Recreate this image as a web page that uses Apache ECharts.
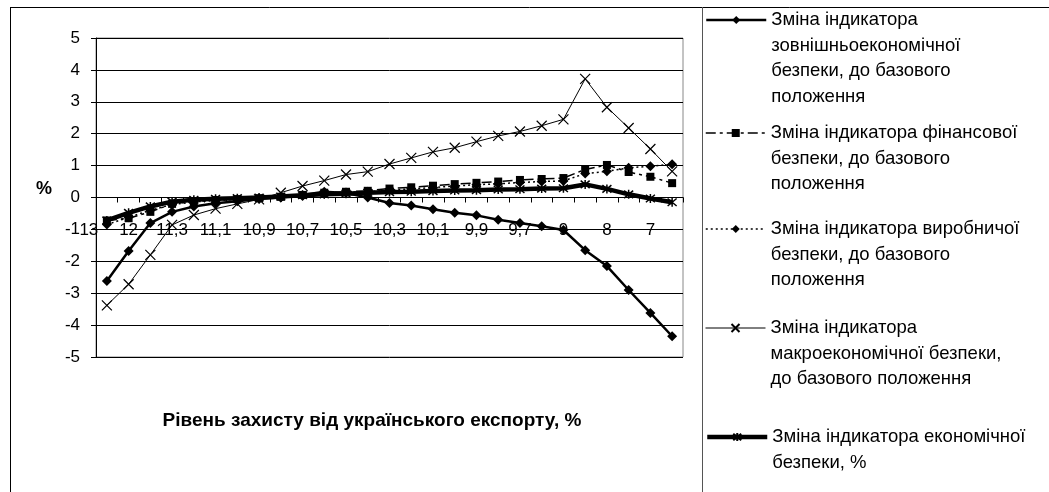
<!DOCTYPE html>
<html><head><meta charset="utf-8">
<script src="https://cdn.jsdelivr.net/npm/echarts@6/dist/echarts.min.js"></script>
<style>html,body{margin:0;padding:0;background:#fff}#c{width:1049px;height:492px}</style>
</head><body><div id="c"></div>
<script>
// Category (x) values: level of protection, %
const categories = ["13","12","11,5","11,3","11,2","11,1","11","10,9","10,8","10,7","10,6","10,5","10,4","10,3","10,2","10,1","10","9,9","9,8","9,7","9,5","9","8,5","8","7,5","7","6,5"];

const seriesNames = [
  "Зміна індикатора зовнішньоекономічної безпеки, до базового положення",
  "Зміна індикатора фінансової безпеки, до базового положення",
  "Зміна індикатора виробничої безпеки, до базового положення",
  "Зміна індикатора макроекономічної безпеки, до базового положення",
  "Зміна індикатора економічної безпеки, %"
];
const legendLabels = [
  "Зміна індикатора\nзовнішньоекономічної\nбезпеки, до базового\nположення",
  "Зміна індикатора фінансової\nбезпеки, до базового\nположення",
  "Зміна індикатора виробничої\nбезпеки, до базового\nположення",
  "Зміна індикатора\nмакроекономічної безпеки,\nдо базового положення",
  "Зміна індикатора економічної\nбезпеки, %"
];

const externalEcon = [-2.62,-1.68,-0.8,-0.45,-0.28,-0.18,-0.12,-0.05,0.0,0.08,0.18,0.14,0.0,-0.17,-0.25,-0.37,-0.48,-0.56,-0.7,-0.8,-0.9,-1.02,-1.65,-2.15,-2.9,-3.62,-4.35];
const financial    = [-0.72,-0.65,-0.45,-0.2,-0.13,-0.08,-0.05,-0.02,0.02,0.08,0.15,0.18,0.21,0.28,0.32,0.37,0.42,0.46,0.5,0.55,0.58,0.61,0.88,1.02,0.8,0.65,0.45];
const production   = [-0.85,-0.62,-0.4,-0.22,-0.14,-0.09,-0.06,-0.03,0.0,0.05,0.12,0.16,0.18,0.23,0.27,0.31,0.36,0.4,0.43,0.47,0.5,0.52,0.75,0.82,0.93,0.98,1.04];
const macroEcon    = [-3.38,-2.72,-1.8,-0.86,-0.55,-0.35,-0.2,-0.06,0.15,0.36,0.53,0.72,0.81,1.05,1.24,1.43,1.56,1.75,1.93,2.07,2.25,2.45,3.72,2.83,2.18,1.52,0.82];
const economic     = [-0.72,-0.48,-0.28,-0.13,-0.07,-0.04,-0.02,0.0,0.03,0.07,0.1,0.12,0.15,0.17,0.18,0.2,0.22,0.23,0.25,0.26,0.28,0.29,0.41,0.27,0.1,-0.03,-0.15];

const FONT = "'Liberation Sans', Arial, sans-serif";
const LH = 25.7;
const crossPath = 'path://M0,0L10,10M10,0L0,10';
const starPath = 'path://M0,0L10,10M10,0L0,10M5,-1L5,11';

const chart = echarts.init(document.getElementById('c'), null, {renderer: 'canvas'});

const seriesDefs = [
  {data: externalEcon, symbol: 'diamond', symbolSize: 10, lineStyle: {width: 2.5, type: 'solid'}, itemStyle: {color: '#000'}},
  {data: financial, symbol: 'rect', symbolSize: 8, lineStyle: {width: 1.5, type: [10, 4, 3, 4]}, itemStyle: {color: '#000'}},
  {data: production, symbol: 'diamond', symbolSize: 10, lineStyle: {width: 1.5, type: [2, 3]}, itemStyle: {color: '#000'}},
  {data: macroEcon, symbol: crossPath, symbolSize: 10, lineStyle: {width: 1, type: 'solid'}, itemStyle: {color: 'none', borderColor: '#000', borderWidth: 1.2}},
  {data: economic, symbol: starPath, symbolSize: 9, lineStyle: {width: 4.5, type: 'solid'}, itemStyle: {color: 'none', borderColor: '#000', borderWidth: 1.5}}
];

const series = seriesDefs.map((d, i) => ({
  name: seriesNames[i],
  type: 'line',
  data: d.data,
  symbol: d.symbol,
  symbolSize: d.symbolSize,
  showAllSymbol: true,
  lineStyle: Object.assign({color: '#000'}, d.lineStyle),
  itemStyle: d.itemStyle,
  z: 2 + i
}));

// per-legend vertical centre of the icon (= first text line)
const legendCenters = [20, 133, 229, 328, 437];
const legends = seriesNames.map((n, i) => {
  const lines = legendLabels[i].split('\n').length;
  const blank = '\n'.repeat(lines - 1);
  return {
    data: [n],
    orient: 'vertical',
    left: 705,
    top: legendCenters[i] - (2 * lines - 1) * LH / 2,
    padding: 0,
    itemWidth: 60,
    itemHeight: 10,
    selectedMode: false,
    lineStyle: {width: seriesDefs[i].lineStyle.width},
    formatter: () => blank + legendLabels[i],
    textStyle: {fontFamily: FONT, fontSize: 18.5, color: '#000', lineHeight: LH}
  };
});

chart.setOption({
  animation: false,
  backgroundColor: '#fff',
  grid: {left: 96, right: 366, top: 38, bottom: 135, show: true, borderColor: '#888', borderWidth: 1, backgroundColor: 'transparent'},
  legend: legends,
  xAxis: {
    type: 'category',
    data: categories,
    boundaryGap: true,
    offset: -159.5,
    axisLine: {onZero: false, lineStyle: {color: '#000', width: 1}},
    axisTick: {show: true, interval: 0, length: 5, inside: false, lineStyle: {color: '#000'}},
    axisLabel: {
      interval: (i) => i === 0 || i % 2 === 1,
      margin: 24,
      fontFamily: FONT, fontSize: 17, color: '#000',
      formatter: (v, i) => i === 0 ? '{f|' + v + '}' : v,
      rich: {f: {fontFamily: FONT, fontSize: 17, color: '#000', padding: [0, 36, 0, 0]}}
    },
    splitLine: {show: false}
  },
  yAxis: {
    type: 'value',
    min: -5, max: 5, interval: 1,
    axisLine: {show: true, lineStyle: {color: '#000'}},
    axisTick: {show: true, length: 5, lineStyle: {color: '#000'}},
    axisLabel: {fontFamily: FONT, fontSize: 17, color: '#000', margin: 16},
    splitLine: {show: true, lineStyle: {color: '#000', width: 1}}
  },
  graphic: [
    {type: 'line', shape: {x1: 10, y1: 7.5, x2: 1049, y2: 7.5}, style: {stroke: '#000', lineWidth: 1}, z: 100, silent: true},
    {type: 'line', shape: {x1: 10.5, y1: 7, x2: 10.5, y2: 492}, style: {stroke: '#000', lineWidth: 1}, z: 100, silent: true},
    {type: 'line', shape: {x1: 702.5, y1: 7, x2: 702.5, y2: 492}, style: {stroke: '#555', lineWidth: 1}, z: 100, silent: true},
    {type: 'text', x: 44, y: 189, style: {text: '%', font: "bold 18px 'Liberation Sans', Arial, sans-serif", fill: '#000', textAlign: 'center', textVerticalAlign: 'middle'}},
    {type: 'text', x: 372, y: 421, style: {text: 'Рівень захисту від українського експорту, %', font: "bold 19px 'Liberation Sans', Arial, sans-serif", fill: '#000', textAlign: 'center', textVerticalAlign: 'middle'}}
  ],
  series: series
});
</script>
</body></html>
